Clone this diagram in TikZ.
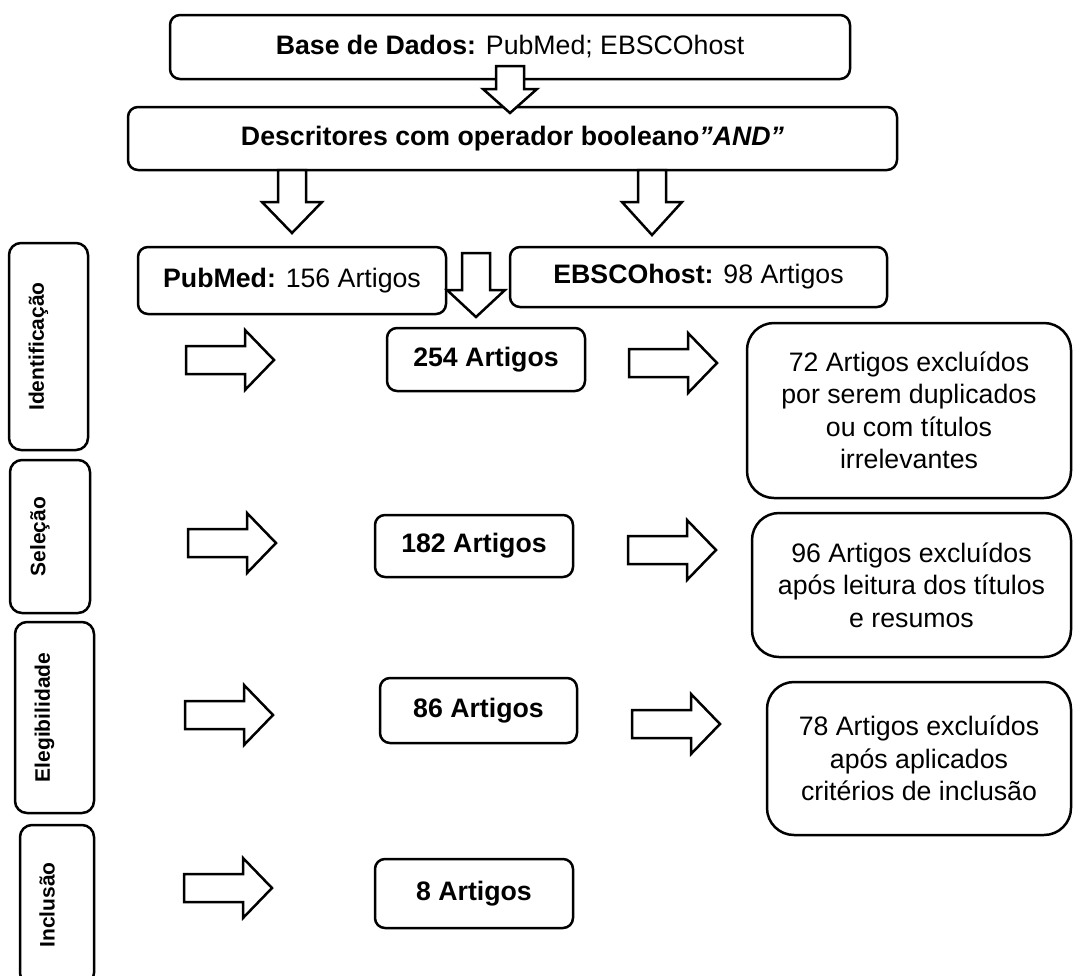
\documentclass[tikz,border=0pt]{standalone}
\usepackage{fontspec}
\setmainfont{Liberation Sans}
\tikzset{rbox/.style={draw, rounded corners=10pt, line width=2.5pt, fill=white, align=center, inner sep=0pt, font=\fontsize{26.7pt}{32.5pt}\selectfont},excl/.style={rbox, rounded corners=27pt},stagebox/.style={draw, rounded corners=12pt, line width=2.5pt},stagelbl/.style={rotate=90, font=\bfseries\fontsize{21pt}{25pt}\selectfont},blk/.style={draw, fill=white, line width=2.5pt, line join=miter}}
\newcommand{\blkright}[2]{\draw[blk] (#1,{#2-14}) -- ({#1+59},{#2-14}) -- ({#1+59},{#2-30}) -- ({#1+88},#2) -- ({#1+59},{#2+30}) -- ({#1+59},{#2+14}) -- (#1,{#2+14}) -- cycle;}
\newcommand{\blkdown}[5]{\draw[blk] ({#1-14},#2) -- ({#1+14},#2) -- ({#1+14},#3) -- ({#1+#5},#3) -- (#1,#4) -- ({#1-#5},#3) -- ({#1-14},#3) -- cycle;}

\begin{document}
\begin{tikzpicture}[x=1pt, y=-1pt]
  \path[use as bounding box] (0,0) rectangle (1073,975);
  \clip (0,0) rectangle (1073,975);

  % Busca
  \node[rbox, minimum width=680, minimum height=64] (base) at (510,47)
    {\textbf{Base de Dados:} PubMed; EBSCOhost};
  \node[rbox, minimum width=769, minimum height=63] (desc) at (512.5,138.5)
    {\textbf{Descritores com operador booleano\textit{”AND”}}};
  \node[rbox, minimum width=308, minimum height=67] (pubmed) at (292,280.5)
    {\textbf{PubMed:} 156 Artigos};
  \node[rbox, minimum width=377, minimum height=60] (ebsco) at (698.5,277)
    {\textbf{EBSCOhost:} 98 Artigos};

  % Fases
  \node[stagebox, minimum width=79, minimum height=207] (sIdent) at (48.5,346.5) {};
  \node[stagelbl] (tIdent) at ([xshift=-10pt]sIdent.center) {Identificação};
  \node[stagebox, minimum width=80, minimum height=153] (sSel) at (50,536.5) {};
  \node[stagelbl] (tSel) at ([xshift=-10pt]sSel.center) {Seleção};
  \node[stagebox, minimum width=79, minimum height=191] (sEleg) at (54.5,717.5) {};
  \node[stagelbl] (tEleg) at ([xshift=-10pt]sEleg.center) {Elegibilidade};
  \node[stagebox, minimum width=74, minimum height=160] (sIncl) at (57,905) {};
  \node[stagelbl] (tIncl) at ([xshift=-10pt]sIncl.center) {Inclusão};

  % Artigos
  \node[rbox, minimum width=198, minimum height=63] (a254) at (486,359.5) {\textbf{254 Artigos}};
  \node[rbox, minimum width=198, minimum height=62] (a182) at (474,546) {\textbf{182 Artigos}};
  \node[rbox, minimum width=197, minimum height=65] (a86) at (478.5,710.5) {\textbf{86 Artigos}};
  \node[rbox, minimum width=198, minimum height=69] (a8) at (474,893.5) {\textbf{8 Artigos}};

  % Excluidos
  \node[excl, minimum width=324, minimum height=175] (ex72) at (909,410.5)
    {72 Artigos excluídos\\por serem duplicados\\ou com títulos\\irrelevantes};
  \node[excl, minimum width=319, minimum height=144] (ex96) at (911.5,585)
    {96 Artigos excluídos\\após leitura dos títulos\\e resumos};
  \node[excl, minimum width=304, minimum height=153] (ex78) at (919,758.5)
    {78 Artigos excluídos\\após aplicados\\critérios de inclusão};

  % setas
  \blkdown{510}{66}{89}{113}{27}
  \blkdown{292}{170}{202}{233}{30}
  \blkdown{652}{170}{202}{235}{30}
  \blkdown{476}{253}{290}{317}{29}
  \blkright{186}{360}
  \blkright{188}{543}
  \blkright{185}{715}
  \blkright{184}{888}
  \blkright{629}{363}
  \blkright{628}{550}
  \blkright{632}{724}
\end{tikzpicture}
\end{document}
